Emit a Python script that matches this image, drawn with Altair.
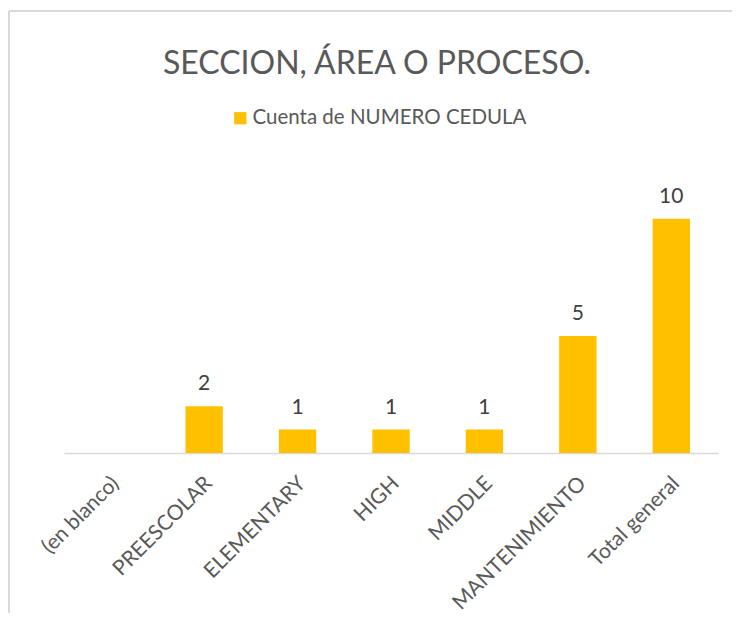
import altair as alt
import pandas as pd

categories = ["(en blanco)", "PREESCOLAR", "ELEMENTARY", "HIGH", "MIDDLE", "MANTENIMIENTO", "Total general"]
values = [None, 2, 1, 1, 1, 5, 10]
series_name = "Cuenta de NUMERO CEDULA"

df = pd.DataFrame({"cat": categories, "val": values, "serie": [series_name] * len(categories)})

FONT = "Lato"
W, H = 654, 281

x_enc = alt.X("cat:N", sort=categories, title=None,
              scale=alt.Scale(paddingInner=0.6, paddingOuter=0.3),
              axis=alt.Axis(labelAngle=-45, labelAlign="right", labelBaseline="middle",
                            labelFontSize=21, labelColor="#595959", labelFont=FONT,
                            labelPadding=27, labelOffset=5, ticks=False, domainColor="#D9D9D9",
                            domainWidth=1.5, labelLimit=300))
y_enc = alt.Y("val:Q", title=None, scale=alt.Scale(domain=[0, 12], nice=False), axis=None)

bars = alt.Chart(df).mark_bar(color="#FFC000").encode(
    x=x_enc, y=y_enc,
    color=alt.Color("serie:N", scale=alt.Scale(range=["#FFC000"]),
                    legend=alt.Legend(title=None, orient="none", legendX=166, legendY=-64,
                                      symbolType="square", symbolSize=150,
                                      labelFontSize=20.5, labelColor="#595959", labelFont=FONT,
                                      symbolStrokeWidth=0, labelOffset=2, labelLimit=500)),
)

labels = alt.Chart(df).transform_filter("isValid(datum.val)").mark_text(
    baseline="bottom", dy=-12, fontSize=21, color="#404040", font=FONT
).encode(x=alt.X("cat:N", sort=categories), y="val:Q", text=alt.Text("val:Q"))

frame_top = alt.Chart(df).mark_rule(color="#D9D9D9", strokeWidth=1.5).encode(
    x=alt.value(-55), x2=alt.value(W + 14), y=alt.value(-161))
frame_left = alt.Chart(df).mark_rule(color="#D9D9D9", strokeWidth=1.5).encode(
    x=alt.value(-55), y=alt.value(-161), y2=alt.value(H + 160))

chart = alt.layer(frame_top, frame_left, bars, labels).properties(
    width=W, height=H,
    autosize=alt.AutoSizeParams(type="none"),
    padding={"left": 56, "top": 164, "right": 14, "bottom": 160},
    title=alt.Title("SECCION, ÁREA O PROCESO.", fontSize=32, fontWeight="normal",
                    color="#595959", font=FONT, anchor="middle", dx=-14, offset=-71),
).configure_view(stroke=None)

chart.save("out.html", embed_options={"renderer": "svg", "actions": False})
